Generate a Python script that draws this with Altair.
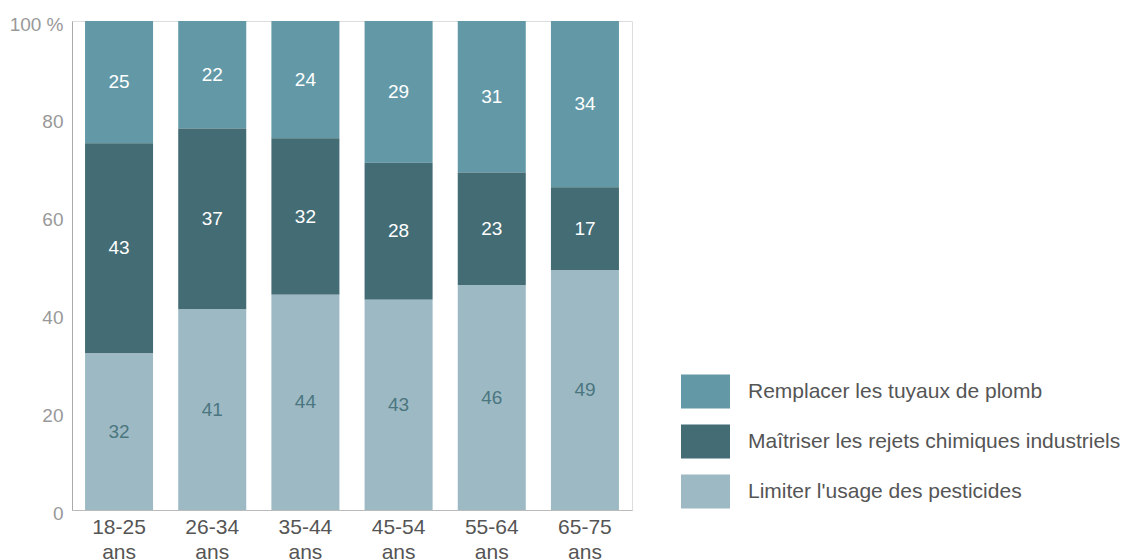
import altair as alt
import pandas as pd

ages = ["18-25 ans", "26-34 ans", "35-44 ans", "45-54 ans", "55-64 ans", "65-75 ans"]
categories = ["Remplacer les tuyaux de plomb",
              "Maîtriser les rejets chimiques industriels",
              "Limiter l'usage des pesticides"]
remplacer = [25, 22, 24, 29, 31, 34]
maitriser = [43, 37, 32, 28, 23, 17]
limiter = [32, 41, 44, 43, 46, 49]
colors = ["#6399a7", "#436c75", "#9dbac4"]
label_colors = ["#ffffff", "#ffffff", "#4b7680"]

series = [remplacer, maitriser, limiter]
stack_order = {categories[0]: 2, categories[1]: 1, categories[2]: 0}
rows = []
for ci, cat in enumerate(categories):
    for ai, age in enumerate(ages):
        rows.append({"age": age, "cat": cat, "value": series[ci][ai],
                     "order": stack_order[cat], "lc": label_colors[ci]})
df = pd.DataFrame(rows)

FONT = "Liberation Sans"

base = alt.Chart(df)

bars = base.mark_bar().encode(
    x=alt.X("age:N", sort=ages, title=None,
            scale=alt.Scale(paddingInner=0.27, paddingOuter=0.14),
            axis=alt.Axis(labelAngle=0, ticks=False, domainColor="#bbbbbb",
                          labelColor="#555555", labelFontSize=21, labelFont=FONT,
                          labelExpr="split(datum.label, ' ')", labelLineHeight=25,
                          labelPadding=6, labelBaseline="top")),
    y=alt.Y("value:Q", stack="zero", title=None,
            scale=alt.Scale(domain=[0, 100], nice=False),
            axis=alt.Axis(values=[0, 20, 40, 60, 80, 100], grid=False, ticks=False,
                          domainColor="#aaaaaa", labelColor="#999999",
                          labelFontSize=19, labelFont=FONT, labelPadding=9,
                          labelOffset=3,
                          labelExpr="datum.value == 100 ? '100 %' : datum.label")),
    color=alt.Color("cat:N", title=None,
                    scale=alt.Scale(domain=categories, range=colors),
                    legend=alt.Legend(orient="none", legendX=609, legendY=346,
                                      symbolType="M-1,-0.694H1V0.694H-1Z",
                                      symbolSize=2401, symbolStrokeWidth=0,
                                      symbolOpacity=1,
                                      labelFontSize=21, labelFont=FONT,
                                      labelColor="#555555", labelOffset=18,
                                      rowPadding=8, padding=0, labelLimit=500)),
    order=alt.Order("order:Q", sort="ascending"),
)

labels = base.transform_stack(
    stack="value", groupby=["age"], as_=["v0", "v1"],
    sort=[alt.SortField("order", order="ascending")]
).transform_calculate(
    mid="(datum.v0 + datum.v1) / 2"
).mark_text(fontSize=19, font=FONT, baseline="middle").encode(
    x=alt.X("age:N", sort=ages),
    y=alt.Y("mid:Q"),
    text=alt.Text("value:Q"),
    color=alt.Color("lc:N", scale=None),
)

chart = alt.layer(bars, labels).properties(
    width=560, height=489,
    autosize=alt.AutoSizeParams(type="none"),
    padding={"left": 64, "top": 13, "right": 490, "bottom": 50},
).configure_view(stroke=None).configure(font=FONT)

chart.save("out.html", embed_options={"renderer": "svg", "actions": False})
